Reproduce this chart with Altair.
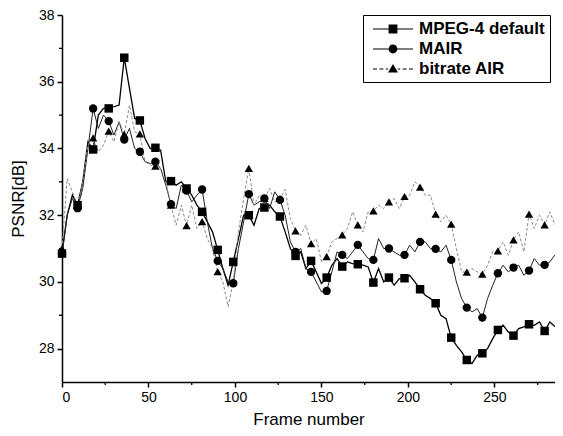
import altair as alt
import pandas as pd

# ---------------- data ----------------
frames = list(range(0, 288, 3))  # 0 .. 285, one value every 3 frames

mpeg4_default = [30.85, 32.0, 32.6, 32.3, 33.0, 34.2, 33.97, 35.0, 35.2, 35.2, 35.25, 35.3,
                 36.72, 35.8, 34.9, 34.84, 34.3, 34.0, 34.02, 33.95, 33.0, 33.02, 32.9, 33.0,
                 32.8, 32.6, 32.3, 32.1, 31.8, 31.5, 30.96, 30.4, 29.9, 30.6, 31.3, 32.0,
                 32.0, 31.7, 32.2, 32.23, 32.3, 32.1, 31.96, 31.5, 31.0, 30.78, 30.9, 30.4,
                 30.63, 30.3, 29.95, 30.13, 30.5, 30.7, 30.46, 30.6, 30.55, 30.53, 30.5, 30.45,
                 29.98, 30.4, 30.0, 30.13, 29.9, 30.1, 30.11, 30.2, 30.0, 29.78, 29.6, 29.5,
                 29.36, 29.0, 28.9, 28.33, 28.1, 27.9, 27.66, 27.55, 27.8, 27.86, 28.0, 28.3,
                 28.56, 28.7, 28.5, 28.39, 28.6, 28.65, 28.73, 28.7, 28.8, 28.53, 28.8, 28.66]

mair = [30.85, 32.0, 32.5, 32.21, 32.8, 34.0, 35.2, 34.6, 35.0, 34.82, 34.4, 34.8,
        34.27, 34.6, 34.0, 33.9, 33.6, 33.55, 33.6, 33.4, 32.9, 32.33, 32.2, 32.9,
        32.74, 32.4, 32.6, 32.77, 31.8, 31.0, 30.63, 30.4, 30.0, 29.96, 31.0, 31.8,
        32.63, 32.3, 32.4, 32.5, 32.2, 32.7, 32.46, 32.0, 31.2, 30.9, 31.0, 30.4,
        30.3, 30.0, 29.7, 29.73, 30.3, 30.9, 30.81, 30.7, 30.9, 31.11, 30.9, 30.7,
        30.66, 31.3, 31.0, 31.0, 30.9, 30.8, 30.81, 31.1, 30.9, 31.2, 31.2, 31.0,
        30.99, 30.9, 31.1, 30.66, 30.0, 29.5, 29.23, 29.1, 29.2, 28.93, 29.5, 29.9,
        30.26, 30.5, 30.3, 30.43, 30.5, 30.2, 30.34, 30.7, 30.5, 30.51, 30.6, 30.81]

bitrate_air = [31.0, 33.1, 32.7, 32.3, 33.0, 34.1, 34.32, 33.9, 34.1, 34.52, 34.2, 34.8,
               34.42, 35.3, 34.5, 34.44, 33.6, 33.5, 33.47, 33.4, 33.0, 32.3, 31.7, 32.3,
               31.69, 32.3, 31.6, 31.81, 31.3, 31.0, 30.31, 30.0, 29.26, 30.0, 31.5, 32.5,
               33.4, 32.3, 32.6, 32.5, 32.8, 32.4, 32.5, 32.77, 31.9, 31.53, 31.4, 31.7,
               31.15, 31.3, 30.6, 30.76, 31.2, 31.3, 31.41, 31.6, 32.1, 31.71, 31.5, 32.1,
               32.13, 32.3, 32.2, 32.4, 32.5, 32.2, 32.56, 32.6, 33.0, 32.84, 32.6, 32.6,
               32.03, 31.8, 32.0, 31.73, 31.0, 30.3, 30.29, 30.4, 30.3, 30.23, 30.5, 30.9,
               30.93, 31.2, 30.8, 31.26, 31.5, 30.9, 32.03, 31.6, 32.0, 31.71, 32.1, 31.7]

series_names = ["MPEG-4 default", "MAIR", "bitrate AIR"]
x_ticks = [0, 50, 100, 150, 200, 250]
y_ticks = [28, 30, 32, 34, 36, 38]
x_minor = [25, 75, 125, 175, 225, 275]
y_minor = [29, 31, 33, 35, 37]

# ---------------- styling ----------------
W, H = 493, 367
FONT = "Liberation Sans"

rows = []
for name, vals in zip(series_names, [mpeg4_default, mair, bitrate_air]):
    for f, v in zip(frames, vals):
        rows.append({"frame": f, "psnr": v, "series": name})
df = pd.DataFrame(rows)

x_scale = alt.Scale(domain=[0, 285], nice=False, zero=False)
y_scale = alt.Scale(domain=[27, 38], nice=False, zero=False)
x_axis = alt.Axis(values=x_ticks, title="Frame number", titlePadding=7)
y_axis = alt.Axis(values=y_ticks, title="PSNR[dB]", titlePadding=11)
x_enc = alt.X("frame:Q", scale=x_scale, axis=x_axis)
y_enc = alt.Y("psnr:Q", scale=y_scale, axis=y_axis)

line_styles = {
    "MPEG-4 default": dict(color="black", strokeWidth=1.3),
    "MAIR": dict(color="#222222", strokeWidth=1.0),
    "bitrate AIR": dict(color="#8a8a8a", strokeWidth=1.0, strokeDash=[3, 2]),
}
marker_styles = {
    "MPEG-4 default": ("square", 72),
    "MAIR": ("circle", 70),
    "bitrate AIR": ("triangle-up", 70),
}

layers = []

for name in series_names:
    sub = alt.Chart(df).transform_filter(alt.datum.series == name)
    layers.append(sub.mark_line(**line_styles[name]).encode(x=x_enc, y=y_enc))

for name in series_names:
    shape, size = marker_styles[name]
    sub = (alt.Chart(df)
           .transform_filter(alt.datum.series == name)
           .transform_filter("datum.frame % 9 == 0"))
    layers.append(sub.mark_point(shape=shape, size=size, filled=True, color="black", opacity=1)
                  .encode(x=x_enc, y=y_enc))

# minor ticks (same fields and axes as the main layers)
minor_x = alt.Chart(pd.DataFrame({"frame": x_minor})).mark_rule(color="black", strokeWidth=1.3).encode(
    x=x_enc, y=alt.value(H), y2=alt.value(H + 3))
minor_y = alt.Chart(pd.DataFrame({"psnr": y_minor})).mark_rule(color="black", strokeWidth=1.3).encode(
    y=y_enc, x=alt.value(0), x2=alt.value(-3))
layers += [minor_x, minor_y]

# legend symbols: thin filled bar (the line) with the marker in the middle
bar = "M-0.5,-0.07H4.5V0.07H-0.5Z"
dashed_bar = ("M-0.5,-0.06H0.0V0.06H-0.5Z M0.3,-0.06H0.8V0.06H0.3Z M1.1,-0.06H1.4V0.06H1.1Z "
              "M2.6,-0.06H2.9V0.06H2.6Z M3.2,-0.06H3.7V0.06H3.2Z M4.0,-0.06H4.5V0.06H4.0Z")
sq_path = bar + " M1.45,-0.55H2.55V0.55H1.45Z"
ci_path = bar + " M2.55,0A0.55,0.55 0 1 1 1.45,0A0.55,0.55 0 1 1 2.55,0Z"
tr_path = dashed_bar + " M2,-0.62L2.62,0.45H1.38Z"

legend_layer = (alt.Chart(df).transform_filter("false")
                .mark_point(filled=True, color="black", opacity=1)
                .encode(
                    x=x_enc, y=y_enc,
                    shape=alt.Shape("series:N",
                                    scale=alt.Scale(domain=series_names,
                                                    range=[sq_path, ci_path, tr_path]),
                                    legend=alt.Legend(
                                        title=None, orient="none", legendX=301, legendY=0,
                                        strokeColor="black", fillColor="white", padding=5,
                                        symbolSize=256, symbolOpacity=1,
                                        symbolFillColor="black",
                                        labelFont=FONT, labelFontSize=17, labelFontWeight="bold",
                                        labelColor="black", labelOffset=33, rowPadding=3,
                                        labelLimit=300,
                                    ))))
layers.append(legend_layer)

chart = (alt.layer(*layers)
         .properties(width=W, height=H,
                     padding={"left": 54, "top": 7, "right": 0, "bottom": 46},
                     autosize=alt.AutoSizeParams(type="none"))
         .configure_view(stroke=None)
         .configure_axis(domainColor="black", domainWidth=1.5, tickColor="black",
                         tickWidth=1.5, tickSize=5, grid=False,
                         labelFont=FONT, labelFontSize=14, labelColor="black", labelPadding=3,
                         titleFont=FONT, titleFontSize=17, titleFontWeight="normal",
                         titleColor="black"))

chart.save("out.html", embed_options={"renderer": "svg", "actions": False})
